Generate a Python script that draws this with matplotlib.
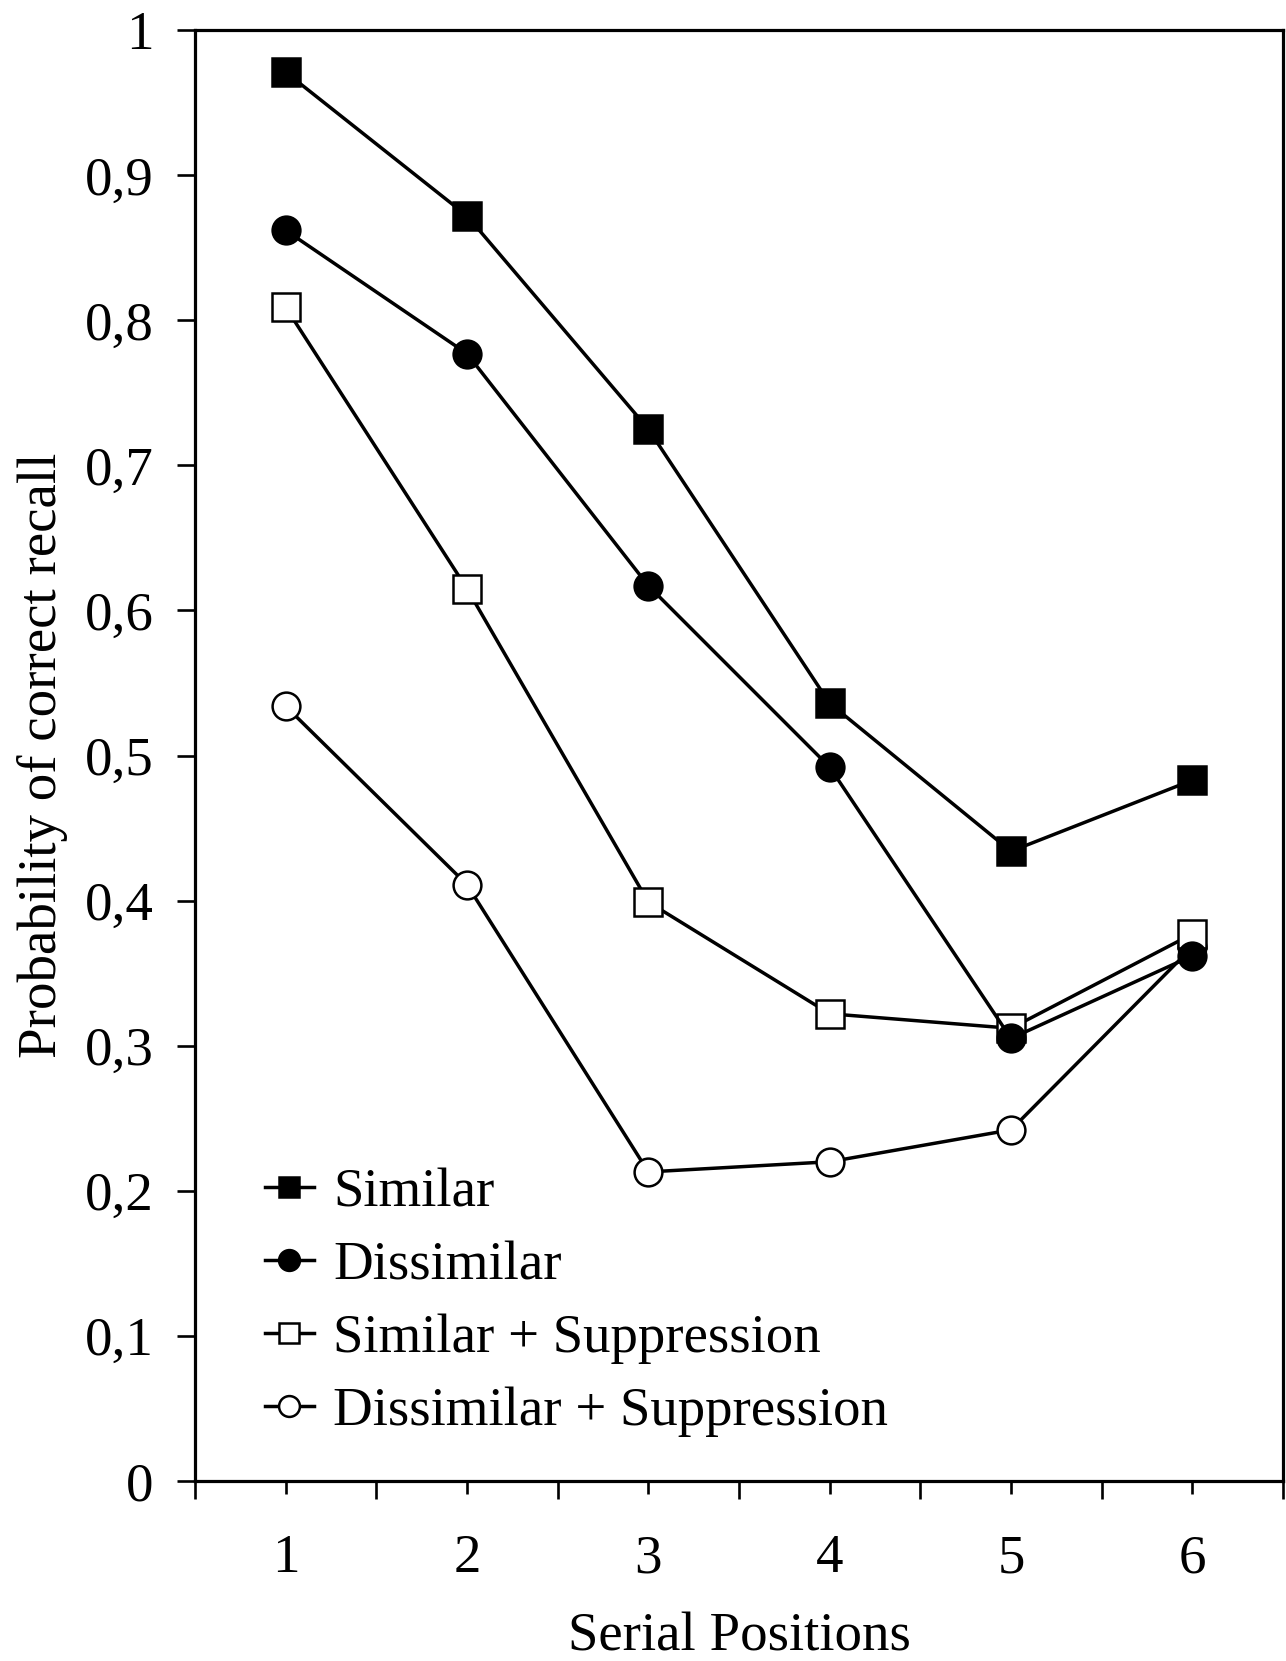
"""Serial position curves for correct recall, four conditions."""

import matplotlib

matplotlib.use("Agg")
import matplotlib.pyplot as plt
from matplotlib.ticker import FixedLocator, FuncFormatter

positions = [1, 2, 3, 4, 5, 6]
similar = [0.971, 0.872, 0.725, 0.536, 0.434, 0.483]
dissimilar = [0.862, 0.777, 0.617, 0.492, 0.305, 0.362]
similar_supp = [0.809, 0.615, 0.399, 0.322, 0.312, 0.377]
dissimilar_supp = [0.534, 0.411, 0.213, 0.220, 0.242, 0.368]
y_ticks = [0, 0.1, 0.2, 0.3, 0.4, 0.5, 0.6, 0.7, 0.8, 0.9, 1.0]

plt.rcParams["font.family"] = ["Liberation Serif", "DejaVu Serif"]
FONT = 39.5

fig = plt.figure(figsize=(12.86, 16.61), dpi=100)
ax = fig.add_axes([0.1516, 0.1084, 0.8461, 0.8735])

series = [
    ("Similar", similar, "s", "black"),
    ("Dissimilar", dissimilar, "o", "black"),
    ("Similar + Suppression", similar_supp, "s", "white"),
    ("Dissimilar + Suppression", dissimilar_supp, "o", "white"),
]
handles = {}
for z, (label, values, marker, face) in enumerate(reversed(series)):
    (line,) = ax.plot(
        positions,
        values,
        color="black",
        linewidth=2.5,
        marker=marker,
        markersize=20,
        markerfacecolor=face,
        markeredgecolor="black",
        markeredgewidth=1.8,
        label=label,
        zorder=3 + z,
    )
    handles[label] = line

ax.set_xlim(0.5, 6.5)
ax.set_ylim(0, 1)
ax.xaxis.set_major_locator(FixedLocator(positions))
ax.xaxis.set_minor_locator(FixedLocator([p - 0.5 for p in positions] + [6.5]))
ax.set_yticks(y_ticks)
ax.yaxis.set_major_formatter(FuncFormatter(lambda v, _: f"{v:g}".replace(".", ",")))

for spine in ax.spines.values():
    spine.set_linewidth(2.3)
ax.tick_params(axis="y", direction="out", length=13, width=1.9, labelsize=FONT, pad=17)
ax.tick_params(axis="x", which="major", direction="out", length=9, width=1.9,
               labelsize=FONT, pad=29)
ax.tick_params(axis="x", which="minor", direction="out", length=13, width=1.9)

ax.set_ylabel("Probability of correct recall", fontsize=FONT, labelpad=12)
ax.set_xlabel("Serial Positions", fontsize=FONT, labelpad=20)

ax.legend(
    [handles[s[0]] for s in series],
    [s[0] for s in series],
    loc="lower left",
    bbox_to_anchor=(0.044, 0.015),
    frameon=False,
    fontsize=FONT,
    handlelength=0.9,
    handletextpad=0.35,
    labelspacing=0.41,
    borderaxespad=0,
    markerscale=0.75,
)

fig.savefig("out.png", dpi=100, facecolor="white")
